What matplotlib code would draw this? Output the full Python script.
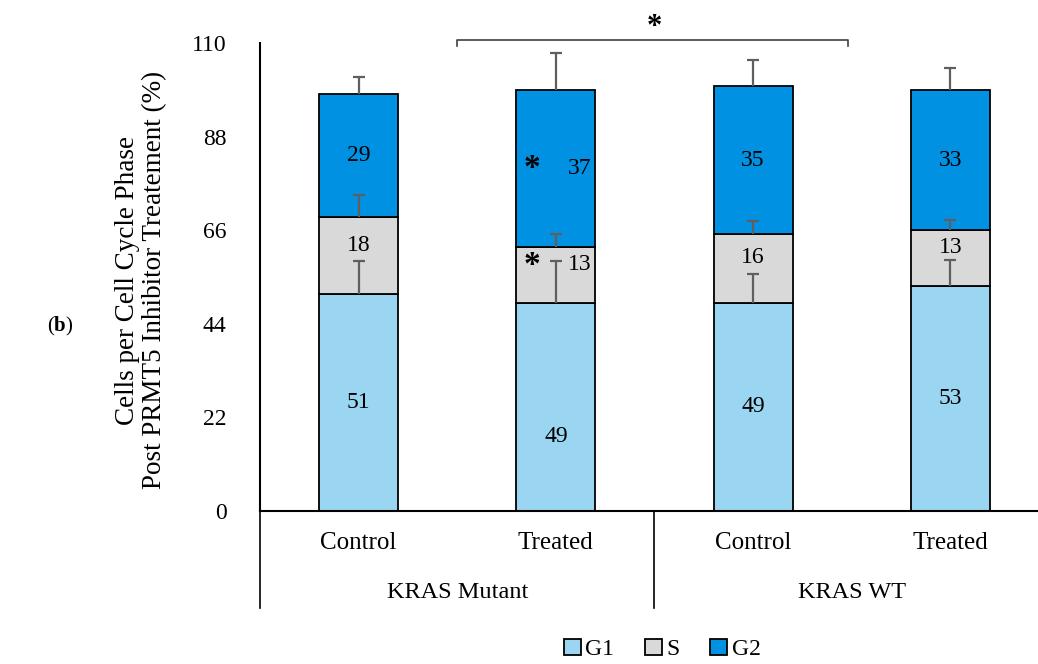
import matplotlib
matplotlib.use('Agg')
import matplotlib.pyplot as plt
import numpy as np

plt.rcParams['font.family'] = ['Liberation Serif', 'DejaVu Serif']
plt.rcParams['mathtext.fontset'] = 'custom'
plt.rcParams['mathtext.rm'] = 'Liberation Serif'
plt.rcParams['mathtext.bf'] = 'Liberation Serif:bold'

# cell cycle phase percentages per condition
conditions = ['Control', 'Treated', 'Control', 'Treated']
groups = ['KRAS Mutant', 'KRAS WT']
g1 = [51, 49, 49, 53]
s_phase = [18, 13, 16, 13]
g2 = [29, 37, 35, 33]
g1_err = [7.7, 9.7, 6.7, 5.9]
s_err = [5.3, 3.0, 3.1, 2.4]
g2_err = [3.9, 8.6, 5.9, 5.1]

col_g1 = '#9AD6F2'
col_s = '#D9D9D9'
col_g2 = '#0091E3'
err_col = '#5F5F5F'

fig = plt.figure(figsize=(10.38, 6.64), dpi=100)
ax = fig.add_axes([0.2505, 0.2304, 0.76, 0.7048])

x = np.arange(len(conditions))
w = 0.4
g1 = np.array(g1)
s_phase = np.array(s_phase)
g2 = np.array(g2)
bottom_s = g1
bottom_g2 = g1 + s_phase

ax.bar(x, g1, w, color=col_g1, edgecolor='black', linewidth=1.3, label='G1', zorder=2)
ax.bar(x, s_phase, w, bottom=bottom_s, color=col_s, edgecolor='black', linewidth=1.3, label='S', zorder=2)
ax.bar(x, g2, w, bottom=bottom_g2, color=col_g2, edgecolor='black', linewidth=1.3, label='G2', zorder=2)

# upper error bars only (hide the lower caps)
for tops, errs in [(g1, g1_err), (bottom_g2, s_err), (bottom_g2 + g2, g2_err)]:
    eb = ax.errorbar(x, tops, yerr=[np.zeros(len(x)), errs], fmt='none',
                     ecolor=err_col, elinewidth=1.6, capsize=4, capthick=1.6, zorder=3)
    eb[1][0].set_visible(False)

# value labels
label_x_shift = [0, 0.12, 0, 0]
g1_label_y = [25.5, 17.4, 24.5, 26.5]
for i in range(len(x)):
    ax.text(x[i], g1_label_y[i], str(g1[i]), ha='center', va='center', fontsize=17, zorder=4)
    ax.text(x[i] + label_x_shift[i], bottom_s[i] + s_phase[i] / 2 + 2.5, str(s_phase[i]),
            ha='center', va='center', fontsize=17, zorder=4)
    ax.text(x[i] + label_x_shift[i], bottom_g2[i] + g2[i] / 2, str(g2[i]),
            ha='center', va='center', fontsize=17, zorder=4)

# significance marks on treated mutant
ax.text(0.88, 80.6, '*', ha='center', va='center', fontsize=24, fontweight='bold', zorder=4)
ax.text(0.88, 57.8, '*', ha='center', va='center', fontsize=24, fontweight='bold', zorder=4)

# bracket between the two groups
ax.plot([0.5, 0.5, 2.48, 2.48], [109.4, 110.7, 110.7, 109.4], color='#404040',
        linewidth=1.2, clip_on=False)
ax.text(1.5, 113.6, '*', ha='center', va='center', fontsize=22, fontweight='bold', clip_on=False)

ax.set_ylim(0, 110)
ax.set_xlim(-0.5, 3.5)
ax.set_yticks([0, 22, 44, 66, 88, 110])
ax.tick_params(axis='y', length=0, labelsize=17, pad=24)
ax.set_xticks([])
for sp in ['top', 'right']:
    ax.spines[sp].set_visible(False)
ax.spines['left'].set_linewidth(1.5)
ax.spines['bottom'].set_linewidth(1.5)

# category and group labels under the axis
trans = ax.get_xaxis_transform()
for i, c in enumerate(conditions):
    ax.text(x[i], -0.068, c, transform=trans, ha='center', va='center', fontsize=18)
for j, g in enumerate(groups):
    ax.text(0.5 + 2 * j, -0.175, g, transform=trans, ha='center', va='center', fontsize=17.5)
for xs in [-0.5, 1.5]:
    ax.plot([xs, xs], [0, -0.207], transform=trans, color='black', linewidth=1.2, clip_on=False)

fig.text(0.136, 0.578, 'Cells per Cell Cycle Phase\nPost PRMT5 Inhibitor Treatement (%)',
         rotation=90, ha='center', va='center', multialignment='center', fontsize=19.5,
         linespacing=1.1)
fig.text(0.058, 0.509, r'($\mathbf{b}$)', ha='center', va='center', fontsize=15)

fig.legend(loc='center', bbox_to_anchor=(0.638, 0.022), ncol=3, frameon=False, fontsize=17,
           handlelength=0.7, handleheight=0.7, handletextpad=0.2, columnspacing=1.3)

fig.savefig('out.png', dpi=100)
